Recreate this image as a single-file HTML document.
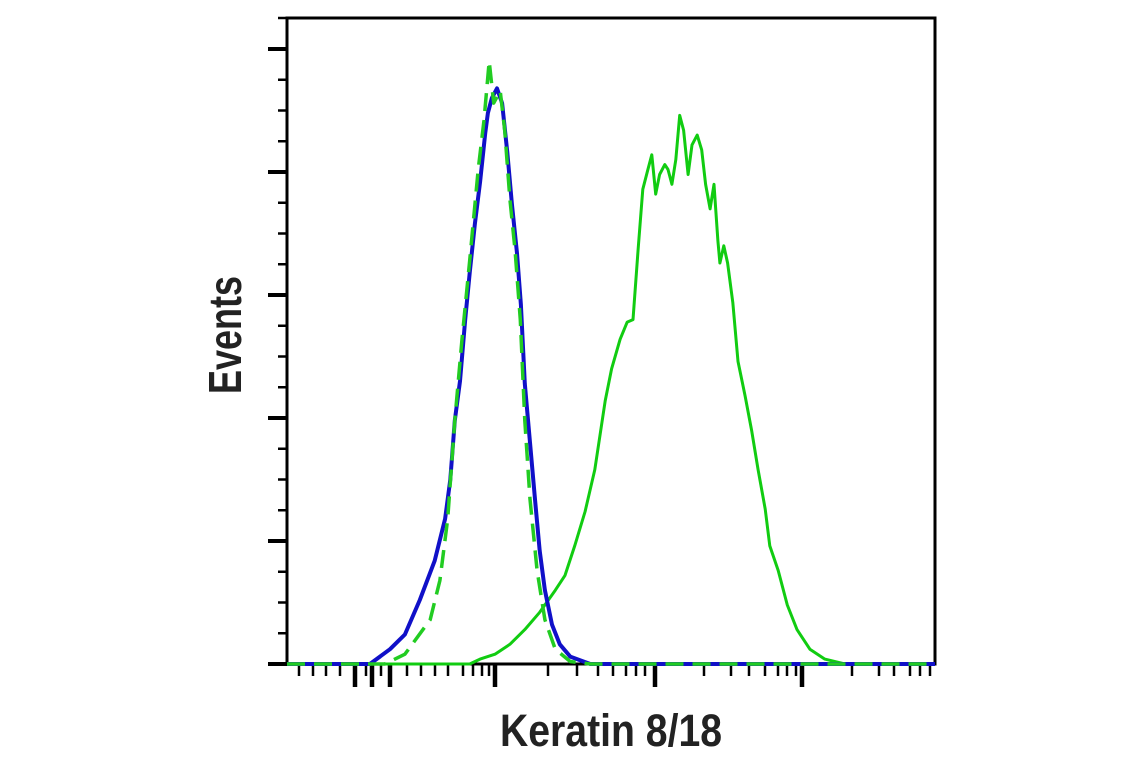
<!DOCTYPE html>
<html><head><meta charset="utf-8"><style>
html,body{margin:0;padding:0;background:#fff;}
svg{display:block;}
</style></head><body>
<svg id="chart" width="1141" height="768" viewBox="0 0 1141 768" xmlns="http://www.w3.org/2000/svg">
<g id="ticks"></g>
<rect x="287" y="18" width="648" height="646" fill="none" stroke="#000" stroke-width="3"/>
<g id="series"></g>
<text x="0" y="0" transform="translate(241,335) rotate(-90)" text-anchor="middle" font-family="'Liberation Sans Narrow','Liberation Sans',sans-serif" font-weight="bold" font-size="46" textLength="118" lengthAdjust="spacingAndGlyphs" fill="#222">Events</text>
<text x="611" y="746" text-anchor="middle" font-family="'Liberation Sans Narrow','Liberation Sans',sans-serif" font-weight="bold" font-size="45" textLength="222" lengthAdjust="spacingAndGlyphs" fill="#222">Keratin 8/18</text>
</svg>
<script>
// x in channel units 0-1000, y in event counts 0-250
const blueX = [0,120,128,159,182,205,228,244,252,259,267,275,282,290,298,306,310,316,324,332,340,347,355,361,367,375,383,390,398,409,421,437,468,1000];
const blueY = [0,0,0,6,12,26,42,59,75,99,115,140,159,179,196,216,224,230,234,228,208,187,167,146,114,90,66,46,30,16,8,3,0,0];
const ctrlX = [0,151,182,221,236,248,259,270,282,295,304,312,319,329,336,344,352,360,367,375,386,398,414,437,468,1000];
const ctrlY = [0,0,4,18,34,59,99,132,164,201,221,245,228,233,217,189,168,140,99,67,38,18,6,1,0,0];
const kerX = [0,282,298,321,344,367,390,414,429,444,460,475,491,501,514,525,534,542,549,557,563,569,575,583,588,594,600,606,612,619,625,633,640,646,653,659,665,668,674,680,688,696,707,717,727,738,745,758,772,787,807,830,861,1000];
const kerY = [0,0,2,4,8,14,21,30,36,48,62,79,107,120,132,139,140,169,193,201,207,191,199,203,201,195,205,223,217,199,211,215,209,195,185,195,172,163,170,163,147,123,109,95,79,63,48,38,24,14,6,2,0,0];
const yTicks = [0,50,100,150,200,250];

const X0=287,X1=935,Y0=664,Y1=49;
const sx = v => X0 + v*(X1-X0)/1000;
const sy = v => Y0 - v*(Y0-Y1)/250;
const NS="http://www.w3.org/2000/svg";
const tg=document.getElementById('ticks'), sg=document.getElementById('series');

function line(x1,y1,x2,y2,w,name){
  const l=document.createElementNS(NS,'line');
  l.setAttribute('x1',x1);l.setAttribute('y1',y1);l.setAttribute('x2',x2);l.setAttribute('y2',y2);
  l.setAttribute('stroke','#000');l.setAttribute('stroke-width',w);
  
  
  tg.appendChild(l);
}
yTicks.forEach((t,i)=>{
  line(268,sy(t),287,sy(t),4,'y-major-tick');
  if(i<yTicks.length-1){
    for(let k=1;k<4;k++){const v=t+k*(yTicks[i+1]-t)/4; line(278,sy(v),287,sy(v),2.5,'y-minor-tick');}
  }
});
line(278,18,287,18,2.5,'y-minor-tick');
const xMinor=[299,313,326,340,366,381,407,421,435,448,463,473,482,489,548,577,598,613,626,636,645,704,731,749,765,778,787,796,852,879,894,910,920,930];
const xMid=[355,372,390];
const xMajor=[495,655,802];
xMinor.forEach(p=>line(p,664,p,676,2.5,'x-minor-tick'));
xMid.forEach(p=>line(p,664,p,687,4.5,'x-mid-tick'));
xMajor.forEach(p=>line(p,664,p,687,4.5,'x-major-tick'));

function path(xs,ys,color,w,dash,name){
  const p=document.createElementNS(NS,'path');
  let d='';xs.forEach((x,i)=>{d+=(i?'L':'M')+sx(x).toFixed(1)+','+sy(ys[i]).toFixed(1);});
  p.setAttribute('d',d);p.setAttribute('fill','none');p.setAttribute('stroke',color);
  p.setAttribute('stroke-width',w);p.setAttribute('stroke-linejoin','round');
  if(dash)p.setAttribute('stroke-dasharray',dash);
  
  
  sg.appendChild(p);
}
path(kerX,kerY,'#11cc11',3,null,'keratin-stained-series');
path(blueX,blueY,'#1010c8',4,null,'negative-cell-series');
path(ctrlX,ctrlY,'#22cc22',3.5,'18,9','isotype-control-series');
</script>
</body></html>
